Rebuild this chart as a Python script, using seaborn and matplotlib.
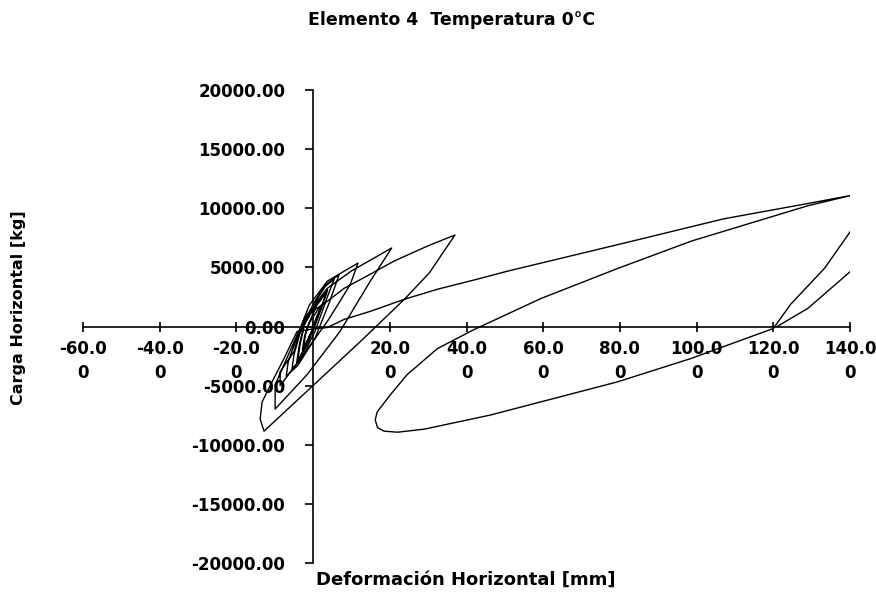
import matplotlib
matplotlib.use("Agg")
import matplotlib.pyplot as plt
import pandas as pd
import seaborn as sns

# Registro del ensayo, en orden: deformación horizontal [mm] y carga horizontal [kg]
deformacion = [
    0.0,
    1.0, 2.0, 0.6, -1.4, -2.5, -2.0, -1.0,
    1.2, 2.4, 0.8, -1.6, -2.8, -2.2, -1.2,
    1.0, 3.5, 2.0, -1.0, -3.0, -4.0, -3.4, -2.2,
    1.2, 3.8, 2.2, -1.0, -3.2, -4.3, -3.6, -2.4,
    1.0, 3.2, 5.5, 3.6, 0.5, -3.0, -5.5, -5.0, -3.2,
    0.2, 3.2, 6.8, 4.2, 0.5, -4.0, -7.0, -6.5, -4.0,
    -1.0, 3.7, 8.1, 11.7, 9.7, 7.0, 3.7, -3.0, -8.6, -8.6, -5.0, -3.5,
    -2.3, 3.7, 10.0, 20.5, 14.9, 7.0, -1.6, -9.9, -9.9, -7.0, -4.0,
    -1.0, 3.7, 8.1, 14.9, 21.1, 29.8, 37.0, 30.3, 23.8, 12.3, -12.8,
    -13.8, -13.3, -10.7, -7.6, -4.2, 0.0,
    3.7, 8.1, 14.9, 23.8, 32.4, 42.8, 50.7, 81.2, 107.0, 129.0, 140.5,
    129.0, 98.7, 79.6, 59.5, 42.0, 32.4, 24.5, 20.1, 16.7, 16.2, 16.8,
    18.5, 22.0, 29.0, 46.2, 79.4, 98.4, 120.0, 124.5, 133.4, 140.2,
    146.0, 140.2, 129.0, 121.0,
]
carga = [
    0,
    900, 1600, 300, -1100, -1800, -700, 300,
    1400, 1900, 400, -1300, -2000, -800, 200,
    1800, 2900, 1500, -1000, -2300, -2900, -1500, 200,
    2100, 3100, 1600, -1100, -2500, -3100, -1600, 100,
    2300, 3400, 4000, 2400, -400, -2700, -3600, -2400, -300,
    2000, 3500, 4400, 2000, -1000, -3300, -4200, -3000, -700,
    1800, 3830, 4680, 5360, 3570, 2130, 425, -2600, -5000, -3830, -2130, -500,
    680, 3230, 4700, 6640, 3830, -425, -4080, -6980, -4940, -2800, -600,
    1100, 2130, 3230, 4420, 5530, 6800, 7740, 4530, 2300, -1280, -8850,
    -7830, -6380, -4680, -2720, -425, -200,
    -85, 600, 1280, 2300, 3150, 4000, 4680, 7060, 9100, 10400, 11100,
    10210, 7230, 4930, 2380, -255, -1870, -4080, -5790, -7230, -7900, -8550,
    -8850, -8940, -8680, -7490, -4680, -2720, -170, 1870, 4940, 8085,
    11500, 4680, 1530, 0,
]

x_ticks = [-60, -40, -20, 0, 20, 40, 60, 80, 100, 120, 140]
x_tick_labels = ["-60.0\n0", "-40.0\n0", "-20.0\n0", "0.00", "20.0\n0", "40.0\n0",
                 "60.0\n0", "80.0\n0", "100.0\n0", "120.0\n0", "140.0\n0"]
y_ticks = [-20000, -15000, -10000, -5000, 0, 5000, 10000, 15000, 20000]
y_tick_labels = ["-20000.00", "-15000.00", "-10000.00", "-5000.00", "0.00",
                 "5000.00", "10000.00", "15000.00", "20000.00"]

sns.set_style("white")
plt.rcParams["font.family"] = ["DejaVu Sans"]

data = pd.DataFrame({"Deformación": deformacion, "Carga": carga})

fig = plt.figure(figsize=(8.76, 6.03), dpi=100)
ax = fig.add_axes([83 / 876, 1 - 563 / 603, (850 - 83) / 876, (563 - 90) / 603])

sns.lineplot(data=data, x="Deformación", y="Carga", sort=False, estimator=None,
             color="black", linewidth=1.0, ax=ax)

ax.set_xlim(-60, 140)
ax.set_ylim(-20000, 20000)

# Excel-style axes crossing at the origin
for side in ["top", "right"]:
    ax.spines[side].set_visible(False)
ax.spines["left"].set_position(("data", 0))
ax.spines["bottom"].set_position(("data", 0))
for side in ["left", "bottom"]:
    ax.spines[side].set_color("black")
    ax.spines[side].set_linewidth(1.2)

# the x "0.00" label is hidden under the y axis in the original
ax.set_xticks(x_ticks)
ax.set_xticklabels([lab if t != 0 else "" for t, lab in zip(x_ticks, x_tick_labels)],
                   fontsize=12, fontweight="bold", linespacing=1.45)
ax.set_yticks(y_ticks)
ax.set_yticklabels(y_tick_labels, fontsize=12, fontweight="bold")
ax.tick_params(axis="x", bottom=True, direction="inout", length=7, width=1.2, pad=6,
               colors="black")
ax.tick_params(axis="y", left=True, direction="out", length=6, width=1.2, pad=14,
               colors="black")

ax.set_xlabel("")
ax.set_ylabel("")
fig.text(0.516, 1 - 20 / 603, "Elemento 4  Temperatura 0°C", ha="center", va="center",
         fontsize=12.5, fontweight="bold", color="black")
fig.text(0.532, 1 - 580 / 603, "Deformación Horizontal [mm]", ha="center", va="center",
         fontsize=13, fontweight="bold", color="black")
fig.text(19 / 876, 1 - 308 / 603, "Carga Horizontal [kg]", ha="center", va="center",
         rotation=90, fontsize=11.5, fontweight="bold", color="black")

fig.savefig("out.png", dpi=100)
